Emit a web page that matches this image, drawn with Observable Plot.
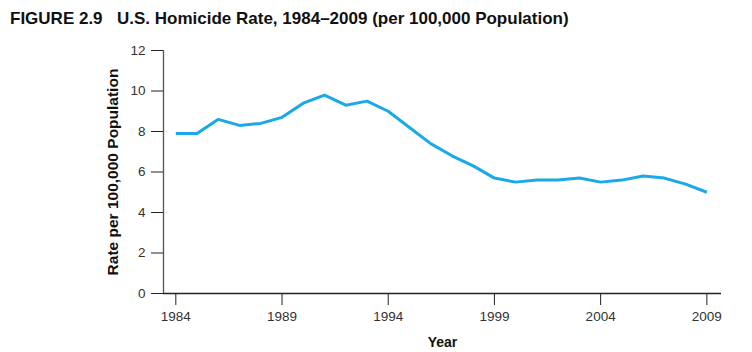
<!DOCTYPE html>
<html>
<head>
<meta charset="utf-8">
<script src="https://cdn.jsdelivr.net/npm/d3@7"></script>
<script src="https://cdn.jsdelivr.net/npm/@observablehq/plot@0.6"></script>
<style>
  body { margin: 0; background: #fff; font-family: "Liberation Sans", Arial, Helvetica, sans-serif; }
  #wrap { position: relative; width: 752px; height: 352px; }
  #title { position: absolute; left: 0; top: 0; width: 752px; height: 40px; color: #111; font-weight: bold; font-size: 17px; line-height: 17px; }
  #title span { position: absolute; top: 10px; white-space: nowrap; }
  #chart { position: absolute; left: 0; top: 40px; }
</style>
</head>
<body>
<div id="wrap">
  <div id="title"><span style="left:10px">FIGURE 2.9</span><span style="left:117px">U.S. Homicide Rate, 1984–2009 (per 100,000 Population)</span></div>
  <div id="chart"></div>
</div>
<script>
const years = [1984,1985,1986,1987,1988,1989,1990,1991,1992,1993,1994,1995,1996,1997,1998,1999,2000,2001,2002,2003,2004,2005,2006,2007,2008,2009];
const rates = [7.9,7.9,8.6,8.3,8.4,8.7,9.4,9.8,9.3,9.5,9.0,8.2,7.4,6.8,6.3,5.7,5.5,5.6,5.6,5.7,5.5,5.6,5.8,5.7,5.4,5.0];
const xTicks = [1984,1989,1994,1999,2004,2009];
const yTicks = [0,2,4,6,8,10,12];
const yLabel = "Rate per 100,000 Population";
const xLabel = "Year";

const data = years.map((year, i) => ({year, rate: rates[i]}));
const xDomain = [1983.42, 2009.69];

const chart = Plot.plot({
  width: 752,
  height: 312,
  marginLeft: 163,
  marginRight: 31,
  marginTop: 10,
  marginBottom: 59,
  style: {fontFamily: '"Liberation Sans", Arial, Helvetica, sans-serif', background: "#fff"},
  x: {domain: xDomain},
  y: {domain: [0, 12]},
  marks: [
    Plot.ruleY([0], {stroke: "#222", strokeWidth: 1.3}),
    Plot.ruleX([xDomain[0]], {y1: 0, y2: 12, stroke: "#555", strokeWidth: 1.3}),
    Plot.axisY({ticks: yTicks, tickSize: 12, tickPadding: 6, fontSize: 13.5, color: "#333", stroke: "#222", label: null, tickFormat: d => String(d)}),
    Plot.axisX({ticks: xTicks, tickSize: 12, tickPadding: 6, fontSize: 13.5, color: "#333", stroke: "#222", label: null, tickFormat: d => String(d)}),
    Plot.line(data, {x: "year", y: "rate", stroke: "#1aa9e8", strokeWidth: 3, strokeLinejoin: "miter", strokeLinecap: "butt"}),
    Plot.text([yLabel], {frameAnchor: "left", textAnchor: "middle", lineAnchor: "middle", rotate: -90, dx: -50, fontSize: 15.5, fontWeight: "bold", fill: "#111"}),
    Plot.text([xLabel], {frameAnchor: "bottom", textAnchor: "middle", lineAnchor: "middle", dy: 49, fontSize: 14, fontWeight: "bold", fill: "#111"})
  ]
});
document.getElementById("chart").appendChild(chart);
</script>
</body>
</html>
